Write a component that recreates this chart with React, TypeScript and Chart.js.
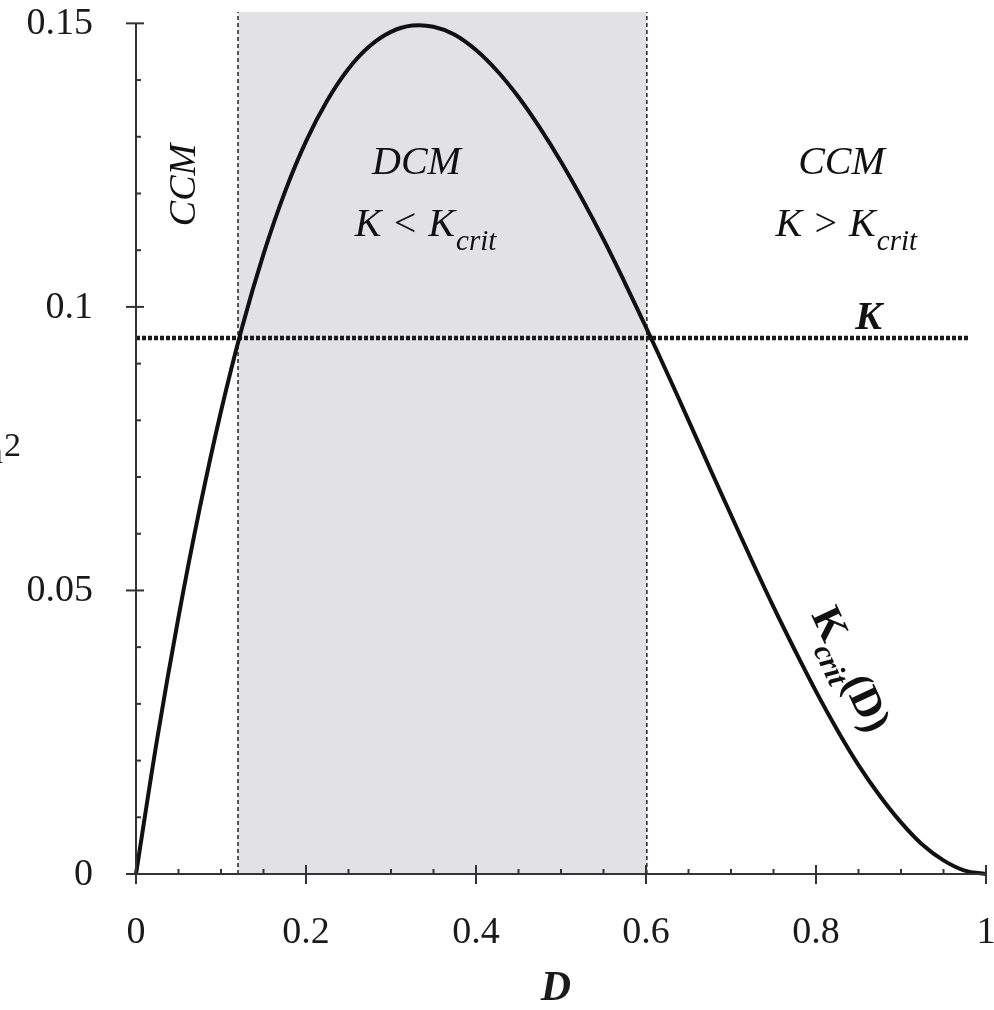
import { useEffect, useRef } from "react";
import { Chart, registerables } from "chart.js";

Chart.register(...registerables);

// ---- data ----
const dValues = [
  0, 0.025, 0.05, 0.075, 0.1, 0.125, 0.15, 0.175, 0.2, 0.225, 0.25, 0.275, 0.3, 0.325, 0.35,
  0.375, 0.4, 0.425, 0.45, 0.475, 0.5, 0.525, 0.55, 0.575, 0.6, 0.625, 0.65, 0.675, 0.7,
  0.725, 0.75, 0.775, 0.8, 0.825, 0.85, 0.875, 0.9, 0.925, 0.95, 0.975, 1,
];
const kCritValues = [
  0, 0.0239, 0.0453, 0.0645, 0.0816, 0.0965, 0.1093, 0.1202, 0.1292, 0.1364, 0.142, 0.146,
  0.1485, 0.1496, 0.1494, 0.148, 0.1453, 0.1416, 0.137, 0.1316, 0.1256, 0.119, 0.1119,
  0.1043, 0.0964, 0.0883, 0.08, 0.0716, 0.0633, 0.0551, 0.0471, 0.0395, 0.0322, 0.0254,
  0.0192, 0.0138, 0.0091, 0.0052, 0.0024, 0.0006, 0,
];
const kLevel = 0.0945;
const kLineStart = 0;
const kLineEnd = 0.98;
const dcmStart = 0.12;
const dcmEnd = 0.601;
const xMin = 0;
const xMax = 1;
const yMin = 0;
const yMax = 0.152;
const xMajorTicks = [0, 0.2, 0.4, 0.6, 0.8, 1];
const xTickLabels = ["0", "0.2", "0.4", "0.6", "0.8", "1"];
const xMinorTicks = [0.05, 0.1, 0.15, 0.25, 0.3, 0.35, 0.45, 0.5, 0.55, 0.65, 0.7, 0.75, 0.85, 0.9, 0.95];
const yMajorTicks = [0, 0.05, 0.1, 0.15];
const yTickLabels = ["0", "0.05", "0.1", "0.15"];
const yMinorTicks = [0.01, 0.02, 0.03, 0.04, 0.06, 0.07, 0.08, 0.09, 0.11, 0.12, 0.13, 0.14];

const SERIF = "'Liberation Serif', 'DejaVu Serif', serif";

function drawWithSub(
  ctx: CanvasRenderingContext2D,
  main: string,
  sub: string,
  cx: number,
  baseline: number,
  mainFont: string,
  subFont: string,
  subDrop: number
) {
  ctx.font = mainFont;
  const w1 = ctx.measureText(main).width;
  ctx.font = subFont;
  const w2 = ctx.measureText(sub).width;
  const start = cx - (w1 + w2) / 2;
  ctx.textAlign = "left";
  ctx.textBaseline = "alphabetic";
  ctx.font = mainFont;
  ctx.fillText(main, start, baseline);
  ctx.font = subFont;
  ctx.fillText(sub, start + w1 + 1, baseline + subDrop);
}

const axesPlugin = {
  id: "customAxes",
  afterDraw(chart: any) {
    const ctx: CanvasRenderingContext2D = chart.ctx;
    const xs = chart.scales.x;
    const ys = chart.scales.y;
    const px = (v: number) => xs.getPixelForValue(v);
    const py = (v: number) => ys.getPixelForValue(v);
    ctx.save();
    ctx.strokeStyle = "#333";
    ctx.fillStyle = "#1a1a1a";
    ctx.lineWidth = 2;

    const x0 = px(0);
    const y0 = py(0);
    // x axis line
    ctx.beginPath();
    ctx.moveTo(x0 - 9, y0);
    ctx.lineTo(px(1), y0);
    ctx.stroke();
    // y axis line
    ctx.beginPath();
    ctx.moveTo(x0, y0 + 10);
    ctx.lineTo(x0, py(0.15));
    ctx.stroke();

    // x ticks
    xMajorTicks.forEach((v) => {
      ctx.beginPath();
      ctx.moveTo(px(v), y0 - 9);
      ctx.lineTo(px(v), y0 + 10);
      ctx.stroke();
    });
    xMinorTicks.forEach((v) => {
      ctx.beginPath();
      ctx.moveTo(px(v), y0 - 5);
      ctx.lineTo(px(v), y0);
      ctx.stroke();
    });
    // y ticks
    yMajorTicks.forEach((v) => {
      ctx.beginPath();
      ctx.moveTo(x0 - 10, py(v));
      ctx.lineTo(x0 + 8, py(v));
      ctx.stroke();
    });
    yMinorTicks.forEach((v) => {
      ctx.beginPath();
      ctx.moveTo(x0, py(v));
      ctx.lineTo(x0 + 5, py(v));
      ctx.stroke();
    });

    // tick labels
    ctx.font = `38px ${SERIF}`;
    ctx.textAlign = "center";
    ctx.textBaseline = "alphabetic";
    xMajorTicks.forEach((v, i) => {
      ctx.fillText(xTickLabels[i], px(v), y0 + 69);
    });
    ctx.textAlign = "right";
    ctx.textBaseline = "middle";
    yMajorTicks.forEach((v, i) => {
      ctx.fillText(yTickLabels[i], x0 - 43, py(v) + 1);
    });

    // x axis title
    ctx.font = `bold italic 42px ${SERIF}`;
    ctx.textAlign = "center";
    ctx.textBaseline = "alphabetic";
    ctx.fillText("D", px(0.494), y0 + 126);

    // y axis title (cropped at left edge)
    ctx.font = `34px ${SERIF}`;
    ctx.textAlign = "right";
    ctx.fillText("m", 3, py(0.075) + 14);
    ctx.font = `34px ${SERIF}`;
    ctx.textAlign = "left";
    ctx.fillText("2", 4, py(0.075) + 7);

    ctx.fillStyle = "#111";
    // CCM rotated (left)
    ctx.save();
    ctx.translate(px(0.058), py(0.1215));
    ctx.rotate(-Math.PI / 2);
    ctx.font = `italic 38px ${SERIF}`;
    ctx.textAlign = "center";
    ctx.textBaseline = "middle";
    ctx.fillText("CCM", 0, 0);
    ctx.restore();

    // DCM region
    ctx.font = `italic 40px ${SERIF}`;
    ctx.textAlign = "center";
    ctx.textBaseline = "alphabetic";
    ctx.fillText("DCM", px(0.33), py(0.1235));
    drawWithSub(ctx, "K < K", "crit", px(0.34), py(0.1125), `italic 40px ${SERIF}`, `italic 29px ${SERIF}`, 14);

    // CCM right
    ctx.font = `italic 40px ${SERIF}`;
    ctx.textAlign = "center";
    ctx.fillText("CCM", px(0.83), py(0.1235));
    drawWithSub(ctx, "K > K", "crit", px(0.835), py(0.1125), `italic 40px ${SERIF}`, `italic 29px ${SERIF}`, 14);

    // K label
    ctx.font = `bold italic 40px ${SERIF}`;
    ctx.textAlign = "center";
    ctx.fillText("K", px(0.862), py(0.0961));

    // Kcrit(D) rotated
    ctx.save();
    ctx.translate(px(0.84), py(0.036));
    ctx.rotate((65 * Math.PI) / 180);
    ctx.font = `bold 42px ${SERIF}`;
    const wK = ctx.measureText("K").width;
    ctx.font = `bold italic 30px ${SERIF}`;
    const wc = ctx.measureText("crit").width;
    ctx.font = `bold 42px ${SERIF}`;
    const wD = ctx.measureText("(D)").width;
    const total = wK + wc + wD;
    let sx = -total / 2;
    ctx.textAlign = "left";
    ctx.textBaseline = "alphabetic";
    ctx.fillText("K", sx, 12);
    sx += wK;
    ctx.font = `bold italic 30px ${SERIF}`;
    ctx.fillText("crit", sx, 25);
    sx += wc;
    ctx.font = `bold 42px ${SERIF}`;
    ctx.fillText("(D)", sx, 12);
    ctx.restore();

    ctx.restore();
  },
};

export default function App() {
  const canvasRef = useRef<HTMLCanvasElement | null>(null);

  useEffect(() => {
    document.body.style.margin = "0";
    const canvas = canvasRef.current;
    if (!canvas) return;
    const curve = dValues.map((d, i) => ({ x: d, y: kCritValues[i] }));
    const chart = new Chart(canvas, {
      type: "line",
      data: {
        datasets: [
          {
            label: "DCM region",
            data: [
              { x: dcmStart, y: yMax },
              { x: dcmEnd, y: yMax },
            ],
            borderWidth: 0,
            pointRadius: 0,
            fill: "origin",
            backgroundColor: "#e2e2e4",
            order: 10,
          },
          {
            label: "left boundary",
            data: [
              { x: dcmStart, y: yMin },
              { x: dcmStart, y: yMax },
            ],
            borderColor: "#222",
            borderWidth: 1.5,
            borderDash: [4, 3],
            pointRadius: 0,
            fill: false,
            order: 5,
          },
          {
            label: "right boundary",
            data: [
              { x: dcmEnd, y: yMin },
              { x: dcmEnd, y: yMax },
            ],
            borderColor: "#222",
            borderWidth: 1.5,
            borderDash: [4, 3],
            pointRadius: 0,
            fill: false,
            order: 5,
          },
          {
            label: "K",
            data: [
              { x: kLineStart, y: kLevel },
              { x: kLineEnd, y: kLevel },
            ],
            borderColor: "#1a1a1a",
            borderWidth: 4.5,
            borderDash: [4, 2],
            pointRadius: 0,
            fill: false,
            order: 2,
          },
          {
            label: "Kcrit(D)",
            data: curve,
            borderColor: "#111",
            borderWidth: 4,
            pointRadius: 0,
            fill: false,
            tension: 0.4,
            clip: false as any,
            order: 1,
          },
        ],
      },
      options: {
        animation: false,
        responsive: false,
        maintainAspectRatio: false,
        layout: { padding: { left: 136, right: 8, top: 12, bottom: 136 } },
        plugins: { legend: { display: false }, tooltip: { enabled: false } },
        scales: {
          x: { type: "linear", min: xMin, max: xMax, display: false },
          y: { type: "linear", min: yMin, max: yMax, display: false },
        },
      },
      plugins: [axesPlugin],
    });
    return () => chart.destroy();
  }, []);

  return (
    <canvas
      ref={canvasRef}
      width={994}
      height={1010}
      style={{ display: "block", width: 994, height: 1010 }}
    />
  );
}
